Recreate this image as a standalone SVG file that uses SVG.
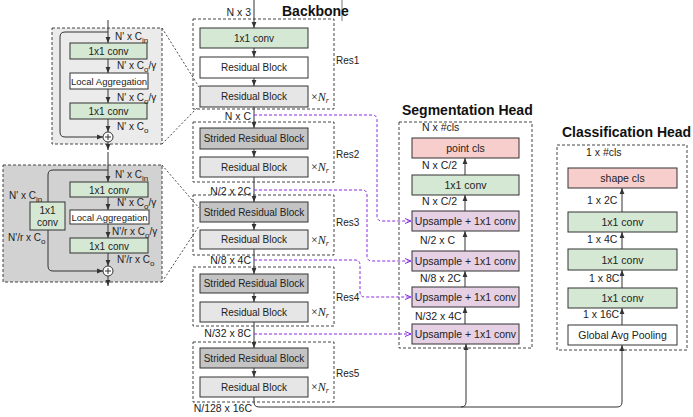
<svg xmlns="http://www.w3.org/2000/svg" width="693" height="417" viewBox="0 0 693 417">
<defs>
<marker id="a" markerUnits="userSpaceOnUse" viewBox="0 0 6 6" refX="6" refY="3" markerWidth="6" markerHeight="6" orient="auto"><path d="M0,0.6 L6,3 L0,5.4 z" fill="#333"/></marker>
<marker id="p" markerUnits="userSpaceOnUse" viewBox="0 0 7 7" refX="6.5" refY="3.5" markerWidth="7" markerHeight="7" orient="auto"><path d="M0.5,1 L6.5,3.5 L0.5,6" fill="none" stroke="#8a2be2" stroke-width="1"/></marker>
</defs>
<style>
text{font-family:"Liberation Sans",Arial,sans-serif;fill:#222}
.t{font-size:10px;text-anchor:middle}
.th{font-size:10.5px;text-anchor:middle}
.l{font-size:10.5px}
.le{font-size:10.5px;text-anchor:end}
.s{font-size:10px}
.title{font-size:14px;font-weight:bold;fill:#111}
.nr{font-family:"Liberation Serif","Times New Roman",serif;font-size:12px}
.box{stroke:#333;stroke-width:1}
.green{fill:#d5e8d4}
.white{fill:#fff}
.lg{fill:#e6e6e6}
.dg{fill:#c4c4c4}
.pink{fill:#f8cecc}
.purp{fill:#e6d0e3}
.dash{fill:none;stroke:#444;stroke-width:1;stroke-dasharray:3,2}
.ln{fill:none;stroke:#333;stroke-width:1}
.arr{fill:none;stroke:#333;stroke-width:1;marker-end:url(#a)}
.pl{fill:none;stroke:#8a2be2;stroke-width:1;stroke-dasharray:3,2;marker-end:url(#p)}
</style>

<line x1="342" y1="0" x2="342" y2="21" stroke="#555" stroke-width="0.8"/>

<!-- Detail block 1 (residual block) -->
<g id="res-block-detail">
<rect x="52" y="28" width="110" height="116" class="dash" style="fill:#ebebeb"/>
<path class="arr" d="M108,20 V43"/>
<path class="arr" d="M108,32 H65 Q60,32 60,37 V132 Q60,137 65,137 H103"/>
<rect class="box green" x="70" y="43" width="77" height="16"/>
<text class="t" x="108.5" y="55">1x1 conv</text>
<path class="arr" d="M108,59 V73"/>
<rect class="box white" x="70" y="73" width="78" height="16"/>
<text class="t" x="109" y="84.5" style="font-size:9.5px">Local Aggregation</text>
<path class="arr" d="M108,89 V103"/>
<rect class="box green" x="70" y="103" width="77" height="16"/>
<text class="t" x="108.5" y="115">1x1 conv</text>
<path class="arr" d="M108,119 V132"/>
<circle cx="108" cy="137" r="5" fill="#fff" stroke="#333"/>
<path class="ln" d="M105,137 H111 M108,134 V140"/>
<path class="arr" d="M108,142 V150"/>
<text class="s" x="115" y="40">N' x C<tspan dy="3" font-size="8">in</tspan></text>
<text class="s" x="117" y="69">N' x C<tspan dy="3" font-size="8">o</tspan><tspan dy="-3">/γ</tspan></text>
<text class="s" x="117" y="101">N' x C<tspan dy="3" font-size="8">o</tspan><tspan dy="-3">/γ</tspan></text>
<text class="s" x="117" y="130">N' x C<tspan dy="3" font-size="8">o</tspan></text>
</g>

<!-- Detail block 2 (strided residual block) -->
<g id="strided-block-detail">
<rect x="3" y="165" width="159" height="117" class="dash" style="fill:#d2d2d2"/>
<path class="arr" d="M108,152 V182"/>
<path class="arr" d="M108,170 H53 Q48,170 48,175 V266 Q48,271 53,271 H103"/>
<rect class="box green" x="30" y="202" width="35" height="28"/>
<text class="t" x="47.5" y="214">1x1</text>
<text class="t" x="47.5" y="226">conv</text>
<text class="s" x="9" y="199">N' x C<tspan dy="3" font-size="8">in</tspan></text>
<text class="s" x="8" y="241">N'/r x C<tspan dy="3" font-size="8">o</tspan></text>
<rect class="box green" x="70" y="182" width="78" height="15"/>
<text class="t" x="109" y="193.5">1x1 conv</text>
<path class="arr" d="M108,197 V210"/>
<rect class="box white" x="70" y="210" width="79" height="14"/>
<text class="t" x="109.5" y="220.5" style="font-size:9.5px">Local Aggregation</text>
<path class="arr" d="M108,224 V238"/>
<rect class="box green" x="70" y="238" width="78" height="15"/>
<text class="t" x="109" y="249.5">1x1 conv</text>
<path class="arr" d="M108,253 V266"/>
<circle cx="108" cy="271" r="5" fill="#fff" stroke="#333"/>
<path class="ln" d="M105,271 H111 M108,268 V274"/>
<path class="arr" d="M108,276 V286"/>
<text class="s" x="115" y="178">N' x C<tspan dy="3" font-size="8">in</tspan></text>
<text class="s" x="117" y="206">N' x C<tspan dy="3" font-size="8">o</tspan><tspan dy="-3">/γ</tspan></text>
<text class="s" x="112" y="235">N'/r x C<tspan dy="3" font-size="8">o</tspan><tspan dy="-3">/γ</tspan></text>
<text class="s" x="117" y="263">N'/r x C<tspan dy="3" font-size="8">o</tspan></text>
</g>

<!-- zoom guide lines -->
<g id="guides" fill="none" stroke="#333" stroke-width="0.9" stroke-dasharray="2,2">
<line x1="162" y1="28" x2="199" y2="87"/>
<line x1="162" y1="144" x2="197" y2="108"/>
<line x1="162" y1="165" x2="199" y2="208"/>
<line x1="162" y1="282" x2="199" y2="226"/>
</g>

<!-- Backbone -->
<text class="title" x="282" y="16">Backbone</text>
<g id="res1">
<rect class="dash" x="193" y="19" width="141" height="90"/>
<rect class="box green" x="200" y="28" width="108" height="20"/>
<text class="t" x="254" y="41.5">1x1 conv</text>
<rect class="box white" x="200" y="57" width="108" height="21"/>
<text class="t" x="254" y="71">Residual Block</text>
<rect class="box lg" x="200" y="86" width="108" height="21"/>
<text class="t" x="254" y="100">Residual Block</text>
<text class="nr" x="311" y="101">×<tspan font-style="italic">N</tspan><tspan font-style="italic" font-size="8" dy="2">r</tspan></text>
<text class="s" x="336" y="64">Res1</text>
</g>
<g id="res2">
<rect class="dash" x="193" y="122" width="141" height="60"/>
<rect class="box dg" x="200" y="128" width="108" height="21"/>
<text class="t" x="254" y="142">Strided Residual Block</text>
<rect class="box lg" x="200" y="157" width="108" height="20"/>
<text class="t" x="254" y="170.5">Residual Block</text>
<text class="nr" x="311" y="171">×<tspan font-style="italic">N</tspan><tspan font-style="italic" font-size="8" dy="2">r</tspan></text>
<text class="s" x="336" y="158">Res2</text>
</g>
<g id="res3">
<rect class="dash" x="193" y="195" width="141" height="60"/>
<rect class="box dg" x="200" y="202" width="108" height="20"/>
<text class="t" x="254" y="215.5">Strided Residual Block</text>
<rect class="box lg" x="200" y="230" width="108" height="19"/>
<text class="t" x="254" y="243">Residual Block</text>
<text class="nr" x="311" y="244">×<tspan font-style="italic">N</tspan><tspan font-style="italic" font-size="8" dy="2">r</tspan></text>
<text class="s" x="336" y="226">Res3</text>
</g>
<g id="res4">
<rect class="dash" x="193" y="267" width="141" height="59"/>
<rect class="box dg" x="200" y="274" width="108" height="19"/>
<text class="t" x="254" y="287">Strided Residual Block</text>
<rect class="box lg" x="200" y="302" width="108" height="20"/>
<text class="t" x="254" y="315.5">Residual Block</text>
<text class="nr" x="311" y="316">×<tspan font-style="italic">N</tspan><tspan font-style="italic" font-size="8" dy="2">r</tspan></text>
<text class="s" x="336" y="301">Res4</text>
</g>
<g id="res5">
<rect class="dash" x="193" y="342" width="141" height="60"/>
<rect class="box dg" x="200" y="348" width="108" height="20"/>
<text class="t" x="254" y="361.5">Strided Residual Block</text>
<rect class="box lg" x="200" y="377" width="108" height="20"/>
<text class="t" x="254" y="390.5">Residual Block</text>
<text class="nr" x="311" y="391">×<tspan font-style="italic">N</tspan><tspan font-style="italic" font-size="8" dy="2">r</tspan></text>
<text class="s" x="336" y="377">Res5</text>
</g>

<!-- Segmentation head -->
<text class="title" x="402" y="115">Segmentation Head</text>
<g id="seg-head">
<rect class="dash" x="399" y="122" width="133" height="226"/>
<rect class="box pink" x="412" y="138" width="107" height="20"/>
<text class="th" x="465.5" y="152">point cls</text>
<rect class="box green" x="412" y="175" width="107" height="20"/>
<text class="th" x="465.5" y="189">1x1 conv</text>
<rect class="box purp" x="412" y="211" width="107" height="20"/>
<text class="th" x="465.5" y="225">Upsample + 1x1 conv</text>
<rect class="box purp" x="412" y="251" width="107" height="20"/>
<text class="th" x="465.5" y="265">Upsample + 1x1 conv</text>
<rect class="box purp" x="412" y="287" width="107" height="20"/>
<text class="th" x="465.5" y="301">Upsample + 1x1 conv</text>
<rect class="box purp" x="412" y="324" width="107" height="20"/>
<text class="th" x="465.5" y="338">Upsample + 1x1 conv</text>
<text class="l" x="422" y="131">N x #cls</text>
<text class="l" x="422" y="169">N x C/2</text>
<text class="l" x="422" y="205">N x C/2</text>
<text class="l" x="420" y="244">N/2 x C</text>
<text class="l" x="420" y="282">N/8 x 2C</text>
<text class="l" x="415" y="320">N/32 x 4C</text>
</g>

<!-- Classification head -->
<text class="title" x="562" y="137">Classification Head</text>
<g id="cls-head">
<rect class="dash" x="557" y="145" width="130" height="205"/>
<rect class="box pink" x="568" y="168" width="109" height="20"/>
<text class="th" x="622.5" y="182">shape cls</text>
<rect class="box green" x="568" y="212" width="109" height="20"/>
<text class="th" x="622.5" y="226">1x1 conv</text>
<rect class="box green" x="568" y="249" width="109" height="21"/>
<text class="th" x="622.5" y="263.5">1x1 conv</text>
<rect class="box green" x="568" y="288" width="109" height="20"/>
<text class="th" x="622.5" y="302">1x1 conv</text>
<rect class="box white" x="568" y="325" width="109" height="20"/>
<text class="th" x="622.5" y="339">Global Avg Pooling</text>
<text class="l" x="586" y="156">1 x #cls</text>
<text class="l" x="587" y="204">1 x 2C</text>
<text class="l" x="587" y="243">1 x 4C</text>
<text class="l" x="589" y="282">1 x 8C</text>
<text class="l" x="583" y="318">1 x 16C</text>
</g>

<!-- Connectors -->
<g id="connectors">
<path class="arr" d="M254,0 V28"/>
<path class="arr" d="M254,48 V57"/>
<path class="arr" d="M254,78 V86"/>
<path class="arr" d="M254,107 V128"/>
<path class="arr" d="M254,149 V157"/>
<path class="arr" d="M254,177 V202"/>
<path class="arr" d="M254,222 V230"/>
<path class="arr" d="M254,249 V274"/>
<path class="arr" d="M254,293 V302"/>
<path class="arr" d="M254,322 V348"/>
<path class="arr" d="M254,368 V377"/>
<path class="arr" d="M254,397 V402 Q254,407 259,407 H461 Q466,407 466,402 V344"/>
<path class="arr" d="M461,407 H617 Q622,407 622,402 V345"/>
<path class="arr" d="M465,324 V307"/>
<path class="arr" d="M465,287 V271"/>
<path class="arr" d="M465,251 V231"/>
<path class="arr" d="M465,211 V195"/>
<path class="arr" d="M465,175 V158"/>
<path class="arr" d="M622,325 V308"/>
<path class="arr" d="M622,288 V270"/>
<path class="arr" d="M622,249 V232"/>
<path class="arr" d="M622,212 V188"/>
<path class="pl" d="M254,115 H372 Q377,115 377,120 V216 Q377,221 382,221 H411"/>
<path class="pl" d="M254,190 H362 Q367,190 367,195 V256 Q367,261 372,261 H411"/>
<path class="pl" d="M254,260 H355 Q360,260 360,265 V292 Q360,297 365,297 H411"/>
<path class="pl" d="M254,334 H411"/>
<text class="le" x="251" y="16">N x 3</text>
<text class="le" x="251" y="120">N x C</text>
<text class="le" x="251" y="195">N/2 x 2C</text>
<text class="le" x="251" y="264">N/8 x 4C</text>
<text class="le" x="251" y="337">N/32 x 8C</text>
<text class="le" x="252" y="412">N/128 x 16C</text>
</g>
</svg>
